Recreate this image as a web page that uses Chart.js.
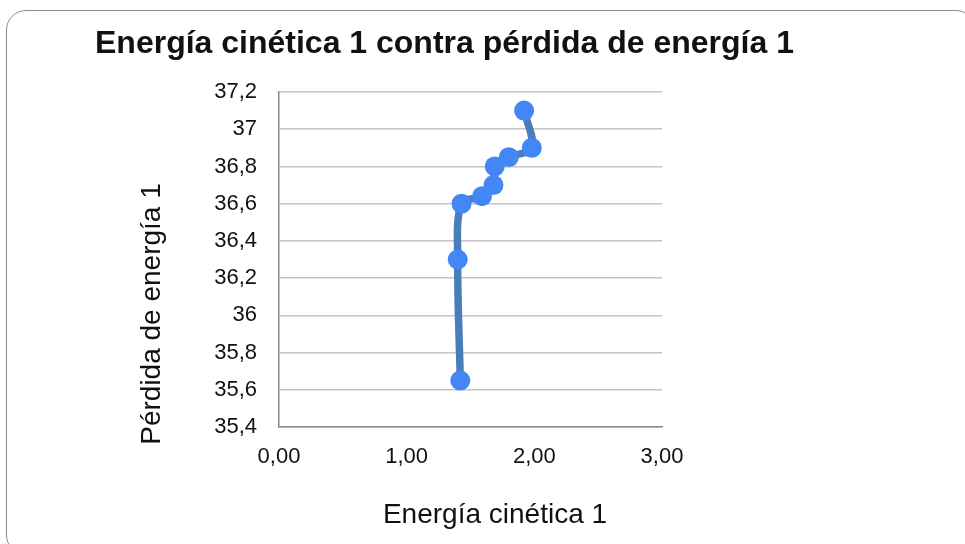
<!DOCTYPE html>
<html>
<head>
<meta charset="utf-8">
<script src="https://cdn.jsdelivr.net/npm/chart.js@4/dist/chart.umd.min.js"></script>
<style>
  html, body { margin: 0; padding: 0; background: #fff; overflow: hidden; }
  #frame {
    position: absolute; left: 6px; top: 10px; width: 970px; height: 545px;
    border: 1.5px solid #8c8c8c; border-radius: 20px; box-sizing: border-box;
  }
  #chart { position: absolute; left: 0; top: 0; }
</style>
</head>
<body>
<div id="frame"></div>
<canvas id="chart" width="965" height="544"></canvas>
<script>
// Texts
const chartTitle = 'Energía cinética 1 contra pérdida de energía 1';
const xAxisTitle = 'Energía cinética 1';
const yAxisTitle = 'Pérdida de energía 1';

// Series: kinetic energy (x) against energy loss (y)
const energiaCinetica = [1.42, 1.40, 1.43, 1.59, 1.68, 1.69, 1.80, 1.98, 1.92];
const perdidaEnergia  = [35.65, 36.30, 36.60, 36.64, 36.70, 36.80, 36.85, 36.90, 37.10];

// Tick values
const xTickValues = [0, 1, 2, 3];
const yTickValues = [35.4, 35.6, 35.8, 36.0, 36.2, 36.4, 36.6, 36.8, 37.0, 37.2];

const FONT = '"Liberation Sans", Arial, sans-serif';
const TEXT_COLOR = '#111111';

const points = energiaCinetica.map((x, i) => ({ x: x, y: perdidaEnergia[i] }));

// Chart title and axis titles drawn on the canvas
const captions = {
  id: 'captions',
  afterDraw(chart) {
    const { ctx, chartArea } = chart;
    ctx.save();
    ctx.fillStyle = TEXT_COLOR;
    ctx.textBaseline = 'alphabetic';

    ctx.font = 'bold 32px ' + FONT;
    ctx.textAlign = 'left';
    ctx.fillText(chartTitle, 95, 53);

    ctx.font = '28px ' + FONT;
    ctx.textAlign = 'center';
    ctx.fillText(xAxisTitle, chartArea.left + 216, chartArea.bottom + 96);

    ctx.translate(chartArea.left - 119, chartArea.top + 222);
    ctx.rotate(-Math.PI / 2);
    ctx.fillText(yAxisTitle, 0, 0);
    ctx.restore();
  }
};

new Chart(document.getElementById('chart'), {
  type: 'scatter',
  data: {
    datasets: [{
      data: points,
      showLine: true,
      borderColor: '#4a7ebb',
      borderWidth: 7.5,
      tension: 0.35,
      pointRadius: 10,
      pointHoverRadius: 10,
      pointBackgroundColor: '#4287f5',
      pointBorderColor: '#4287f5',
      pointBorderWidth: 0
    }]
  },
  options: {
    responsive: false,
    animation: false,
    devicePixelRatio: 1,
    layout: { padding: { left: 0, top: 92, right: 303, bottom: 0 } },
    plugins: {
      legend: { display: false },
      title: { display: false },
      tooltip: { enabled: false }
    },
    scales: {
      x: {
        type: 'linear',
        min: 0, max: 3,
        afterBuildTicks: (scale) => { scale.ticks = xTickValues.map(v => ({ value: v })); },
        afterFit: (scale) => { scale.height = 117; },
        grid: { display: false, drawTicks: false },
        border: { display: true, color: '#8a8a8a', width: 1.5 },
        ticks: {
          padding: 17,
          color: TEXT_COLOR,
          font: { family: FONT, size: 22 },
          maxRotation: 0,
          callback: (v) => Number(v).toFixed(2).replace('.', ',')
        }
      },
      y: {
        type: 'linear',
        min: 35.4, max: 37.2,
        afterBuildTicks: (scale) => { scale.ticks = yTickValues.map(v => ({ value: v })); },
        afterFit: (scale) => { scale.width = 279; },
        grid: { color: '#c4c4c4', lineWidth: 1.5, drawTicks: false },
        border: { display: true, color: '#8a8a8a', width: 1.5 },
        ticks: {
          padding: 22,
          color: TEXT_COLOR,
          font: { family: FONT, size: 22 },
          callback: (v) => String(Number(Number(v).toFixed(1))).replace('.', ',')
        }
      }
    }
  },
  plugins: [captions]
});
</script>
</body>
</html>
